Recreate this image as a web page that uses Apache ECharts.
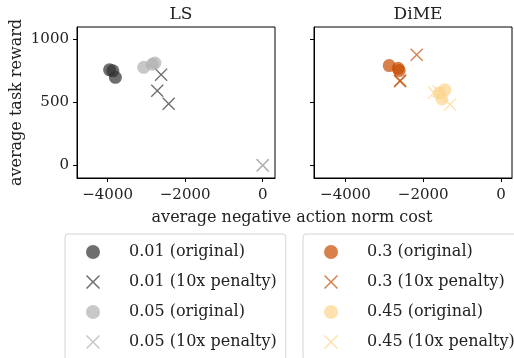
<!DOCTYPE html>
<html><head><meta charset="utf-8">
<script src="https://cdn.jsdelivr.net/npm/echarts@6/dist/echarts.min.js"></script>
<style>html,body{margin:0;padding:0;background:#fff;}#c{width:514px;height:358px;}</style>
</head><body><div id="c"></div>
<script>
// ---- data ----
const panelTitles = ['LS', 'DiME'];
const xTicks = [-4000, -2000, 0];
const yTicks = [0, 500, 1000];
const xLabel = 'average negative action norm cost';
const yLabel = 'average task reward';

const lsOrig001X = [-3950, -3865, -3800];
const lsOrig001Y = [756, 748, 697];
const lsPen001X = [-2620, -2720, -2425];
const lsPen001Y = [718, 590, 488];
const lsOrig005X = [-3070, -2850, -2780];
const lsOrig005Y = [776, 800, 810];
const lsPen005X = [0, 0, 0];
const lsPen005Y = [0, 0, 0];

const dimeOrig03X = [-2875, -2645, -2617];
const dimeOrig03Y = [790, 768, 750];
const dimePen03X = [-2168, -2600, -2590];
const dimePen03Y = [876, 666, 672];
const dimeOrig045X = [-1440, -1585, -1520];
const dimeOrig045Y = [598, 572, 526];
const dimePen045X = [-1720, -1310, -1600];
const dimePen045Y = [574, 481, 585];

const lsNames = ['0.01 (original)', '0.01 (10x penalty)', '0.05 (original)', '0.05 (10x penalty)'];
const dimeNames = ['0.3 (original)', '0.3 (10x penalty)', '0.45 (original)', '0.45 (10x penalty)'];

// ---- styling ----
const FONT = 'DejaVu Serif';
const XPATH = 'path://M0,1.5 L1.5,0 L10,8.5 L18.5,0 L20,1.5 L11.5,10 L20,18.5 L18.5,20 L10,11.5 L1.5,20 L0,18.5 L8.5,10 Z';
const cDark = 'rgba(48,48,48,0.7)';
const cLight = 'rgba(176,176,176,0.7)';
const cOrange = 'rgba(200,76,0,0.7)';
const cYellow = 'rgba(252,213,142,0.7)';
const TXT = '#222';

function zip(xs, ys) { return xs.map((x, i) => [x, ys[i]]); }
const minus = v => String(v).replace('-', '\u2212');

function xAxis(grid, min, max) {
  return {
    type: 'value', gridIndex: grid, min: min, max: max,
    splitLine: { show: false },
    axisLine: { show: true, onZero: false, lineStyle: { color: '#000', width: 1 } },
    axisTick: { show: true, inside: false, length: 4, customValues: xTicks, lineStyle: { color: '#000' } },
    axisLabel: { customValues: xTicks, formatter: minus, color: TXT, fontFamily: FONT, fontSize: 15, margin: 10 }
  };
}
function yAxis(grid, showLabels) {
  return {
    type: 'value', gridIndex: grid, min: -100, max: 1095,
    splitLine: { show: false },
    axisLine: { show: true, onZero: false, lineStyle: { color: '#000', width: 1 } },
    axisTick: { show: true, inside: false, length: 4, customValues: yTicks, lineStyle: { color: '#000' } },
    axisLabel: { show: showLabels, customValues: yTicks, formatter: minus, color: TXT, fontFamily: FONT, fontSize: 15, margin: 8 },
    name: showLabels ? yLabel : '', nameLocation: 'middle', nameGap: 52,
    nameTextStyle: { color: TXT, fontFamily: FONT, fontSize: 16 }
  };
}
function sc(name, xi, data, symbol, color, size) {
  return { type: 'scatter', name: name, xAxisIndex: xi, yAxisIndex: xi, data: data,
    symbol: symbol, symbolSize: size, itemStyle: { color: color, opacity: 1 }, emphasis: { disabled: true } };
}
function legend(names, icons, left) {
  return {
    orient: 'vertical', left: left, top: 234, height: 160,
    data: names.map((n, i) => ({ name: n, icon: icons[i] })),
    itemWidth: 14, itemHeight: 14, itemGap: 14,
    padding: [10, 9, 10, 21],
    borderColor: '#d4d4d4', borderWidth: 1, borderRadius: 3,
    textStyle: { fontFamily: FONT, fontSize: 16, color: TXT, lineHeight: 16, padding: [0, 0, 0, 24], width: 146 },
    selectedMode: false
  };
}
const icons = ['circle', XPATH, 'circle', XPATH];

const chart = echarts.init(document.getElementById('c'), null, { renderer: 'canvas' });
chart.setOption({
  animation: false,
  backgroundColor: '#fff',
  title: [
    { text: panelTitles[0], left: 176, top: 1, textAlign: 'center', textStyle: { fontFamily: FONT, fontSize: 17, fontWeight: 'normal', color: TXT } },
    { text: panelTitles[1], left: 413, top: 1, textAlign: 'center', textStyle: { fontFamily: FONT, fontSize: 17, fontWeight: 'normal', color: TXT } },
    { text: xLabel, left: 287, top: 205, textAlign: 'center', textStyle: { fontFamily: FONT, fontSize: 16, fontWeight: 'normal', color: TXT } }
  ],
  grid: [
    { left: 77, top: 27, width: 198, height: 151, show: true, borderColor: '#000', borderWidth: 1, backgroundColor: 'transparent' },
    { left: 314, top: 27, width: 198, height: 151, show: true, borderColor: '#000', borderWidth: 1, backgroundColor: 'transparent' }
  ],
  xAxis: [xAxis(0, -4790, 317), xAxis(1, -4810, 284)],
  yAxis: [yAxis(0, true), yAxis(1, false)],
  legend: [legend(lsNames, icons, 65), legend(dimeNames, icons, 303)],
  series: [
    sc(lsNames[0], 0, zip(lsOrig001X, lsOrig001Y), 'circle', cDark, 13),
    sc(lsNames[1], 0, zip(lsPen001X, lsPen001Y), XPATH, cDark, 13),
    sc(lsNames[2], 0, zip(lsOrig005X, lsOrig005Y), 'circle', cLight, 13),
    sc(lsNames[3], 0, zip(lsPen005X, lsPen005Y), XPATH, cLight, 13),
    sc(dimeNames[0], 1, zip(dimeOrig03X, dimeOrig03Y), 'circle', cOrange, 13),
    sc(dimeNames[1], 1, zip(dimePen03X, dimePen03Y), XPATH, cOrange, 13),
    sc(dimeNames[2], 1, zip(dimeOrig045X, dimeOrig045Y), 'circle', cYellow, 13),
    sc(dimeNames[3], 1, zip(dimePen045X, dimePen045Y), XPATH, cYellow, 13)
  ]
});
</script></body></html>
